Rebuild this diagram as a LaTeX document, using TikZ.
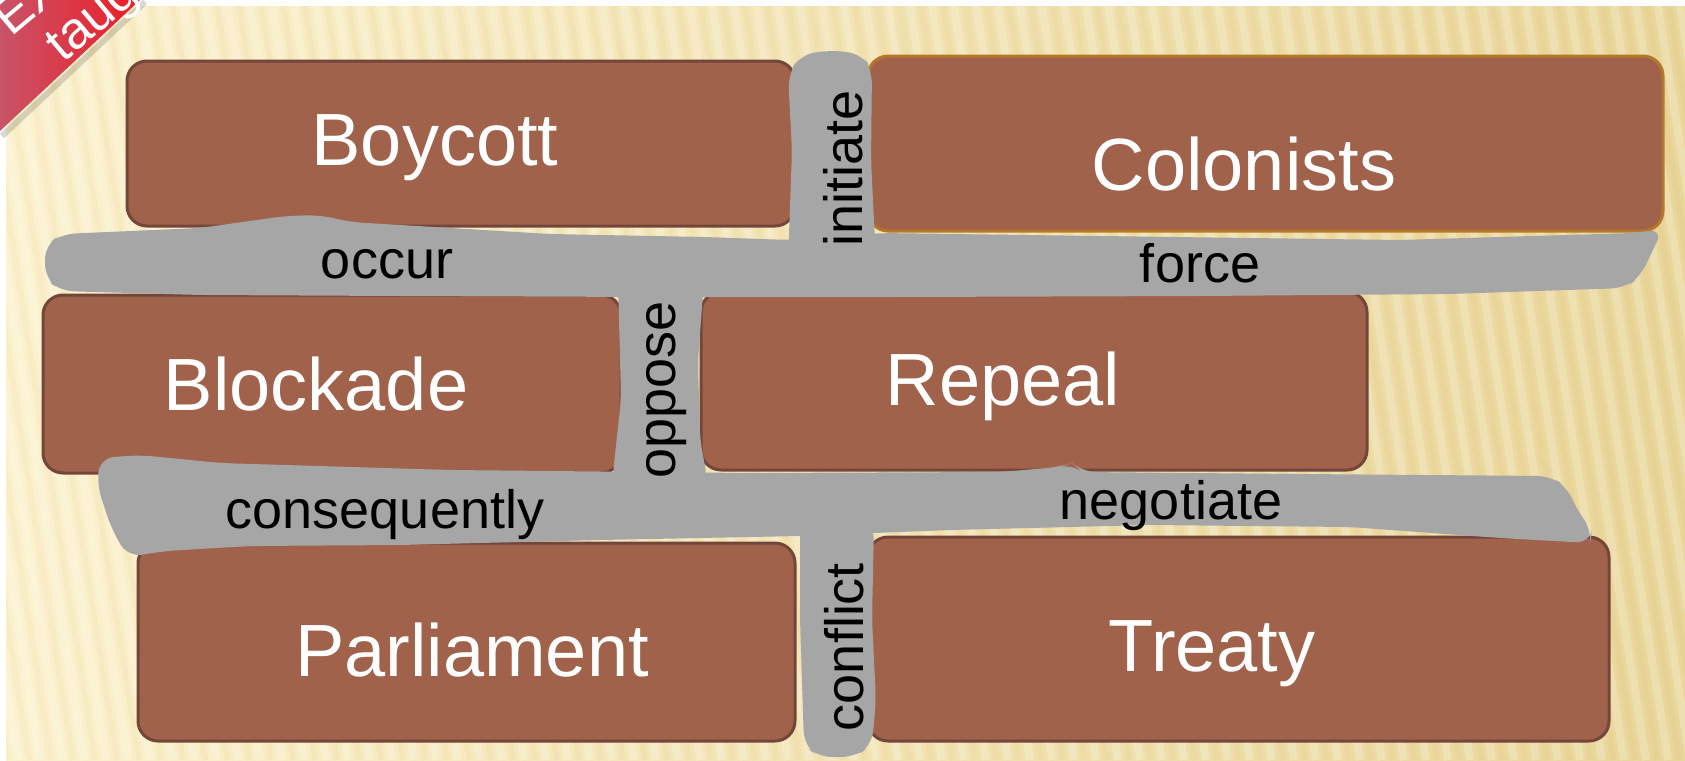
\documentclass[tikz,border=0pt]{standalone}
\usepackage{fontspec}
\setmainfont{Liberation Sans}
\usetikzlibrary{fit}

\definecolor{brick}{HTML}{A0624B}
\definecolor{brickline}{HTML}{74463A}
\definecolor{goldline}{HTML}{B5782A}
\definecolor{road}{HTML}{A6A6A6}
\definecolor{paperL}{HTML}{FBF1CC}
\definecolor{paperR}{HTML}{E9D699}
\definecolor{ribbon}{HTML}{EE1C25}
\definecolor{ribbonL}{HTML}{C85468}

\tikzset{
  brickbox/.style={fill=brick, draw=brickline, line width=1.5pt, rounded corners=10pt, inner sep=0pt},
  bricktext/.style={text=white, inner sep=0pt, font=\fontsize{37}{40}\selectfont},
  roadfill/.style={fill=road, rounded corners=7pt},
  roadtext/.style={text=black, inner sep=0pt, font=\fontsize{27}{30}\selectfont},
  ribbontext/.style={text=white, inner sep=0pt, rotate=40, font=\fontsize{26}{28}\selectfont}
}

\begin{document}
\begin{tikzpicture}[x=0.5pt, y=-0.5pt]
  \useasboundingbox (0,0) rectangle (1685,760);
  \clip (0,0) rectangle (1685,760);

  % paper
  \fill[white] (0,0) rectangle (1685,760);
  \shade[left color=paperL, right color=paperR] (6,6) rectangle (1685,760);
  \begin{scope}
    \clip (6,6) rectangle (1685,760);
    \foreach \x in {-300,-278,...,1700}
    {
      \draw[white, opacity=.22, line width=4pt] (\x,6) -- (\x+120,760);
      \draw[brown, opacity=.04, line width=3pt] (\x+11,6) -- (\x+131,760);
    }
  \end{scope}

  % bricks
  \node[brickbox, fit={(127,61) (795,226)}] (boycott) {};
  \node[brickbox, draw=goldline, fit={(868,56) (1663,231)}] (colonists) {};
  \node[brickbox, fit={(43,295) (621,473)}] (blockade) {};
  \node[brickbox, fit={(701,292) (1367,470)}] (repeal) {};
  \node[brickbox, fit={(138,543) (795,741)}] (parliament) {};
  \node[brickbox, fit={(868,537) (1609,741)}] (treaty) {};

  % grey roads
  \fill[roadfill] (45,245) -- (62,234) -- (200,228) -- (285,216) -- (320,215) -- (350,222)
    -- (550,234) -- (705,237) -- (790,240) -- (880,233) -- (1100,236) -- (1400,240)
    -- (1633,233) -- (1663,229) -- (1640,277) -- (1625,288) -- (1450,294) -- (1200,296)
    -- (900,297) -- (650,297) -- (400,296) -- (200,295) -- (60,291) -- (45,278) -- cycle;
  \fill[roadfill] (788,75) -- (800,55) -- (830,50) -- (862,54) -- (872,70) -- (871,160)
    -- (876,262) -- (788,262) -- (792,150) -- cycle;
  \fill[roadfill] (618,280) -- (704,280) -- (698,360) -- (700,440) -- (708,482)
    -- (612,482) -- (621,400) -- cycle;
  \fill[roadfill] (100,458) -- (140,455) -- (220,463) -- (450,470) -- (750,473) -- (1000,472)
    -- (1060,467) -- (1072,463) -- (1082,472) -- (1300,474) -- (1550,476) -- (1567,487)
    -- (1578,512) -- (1592,530) -- (1590,543) -- (1500,538) -- (1350,527) -- (1150,525)
    -- (950,530) -- (800,536) -- (600,540) -- (400,545) -- (250,546) -- (165,551)
    -- (128,557) -- (112,530) -- (97,485) -- cycle;
  \fill[roadfill] (800,525) -- (874,525) -- (872,620) -- (876,700) -- (872,745) -- (855,757)
    -- (818,757) -- (804,745) -- (800,620) -- cycle;

  % words on the bricks
  \node[bricktext] (boycottT) at (435,148) {Boycott};
  \node[bricktext] (colonistsT) at (1244,164) {Colonists};
  \node[bricktext] (blockadeT) at (316,384) {Blockade};
  \node[bricktext] (repealT) at (1003,386) {Repeal};
  \node[bricktext] (parliamentT) at (472,650) {Parliament};
  \node[bricktext] (treatyT) at (1212,654) {Treaty};

  % words on the roads
  \node[roadtext] (occur) at (387,264) {occur};
  \node[roadtext] (force) at (1200,263) {force};
  \node[roadtext, rotate=90] (initiate) at (843,168) {initiate};
  \node[roadtext, rotate=90] (oppose) at (667,390) {oppose};
  \node[roadtext] (consequently) at (385,515) {consequently};
  \node[roadtext] (negotiate) at (1171,506) {negotiate};
  \node[roadtext, rotate=90] (conflict) at (844,647) {conflict};

  % corner ribbon
  \draw[black, opacity=.15, line width=3pt] (145,2) -- (2,136);
  \shade[left color=ribbonL, right color=ribbon] (0,0) -- (140,0) -- (0,131) -- cycle;
  \node[ribbontext] (ribE) at (27,2) {EX};
  \node[ribbontext] (ribT) at (95,22) {taug};
\end{tikzpicture}
\end{document}
